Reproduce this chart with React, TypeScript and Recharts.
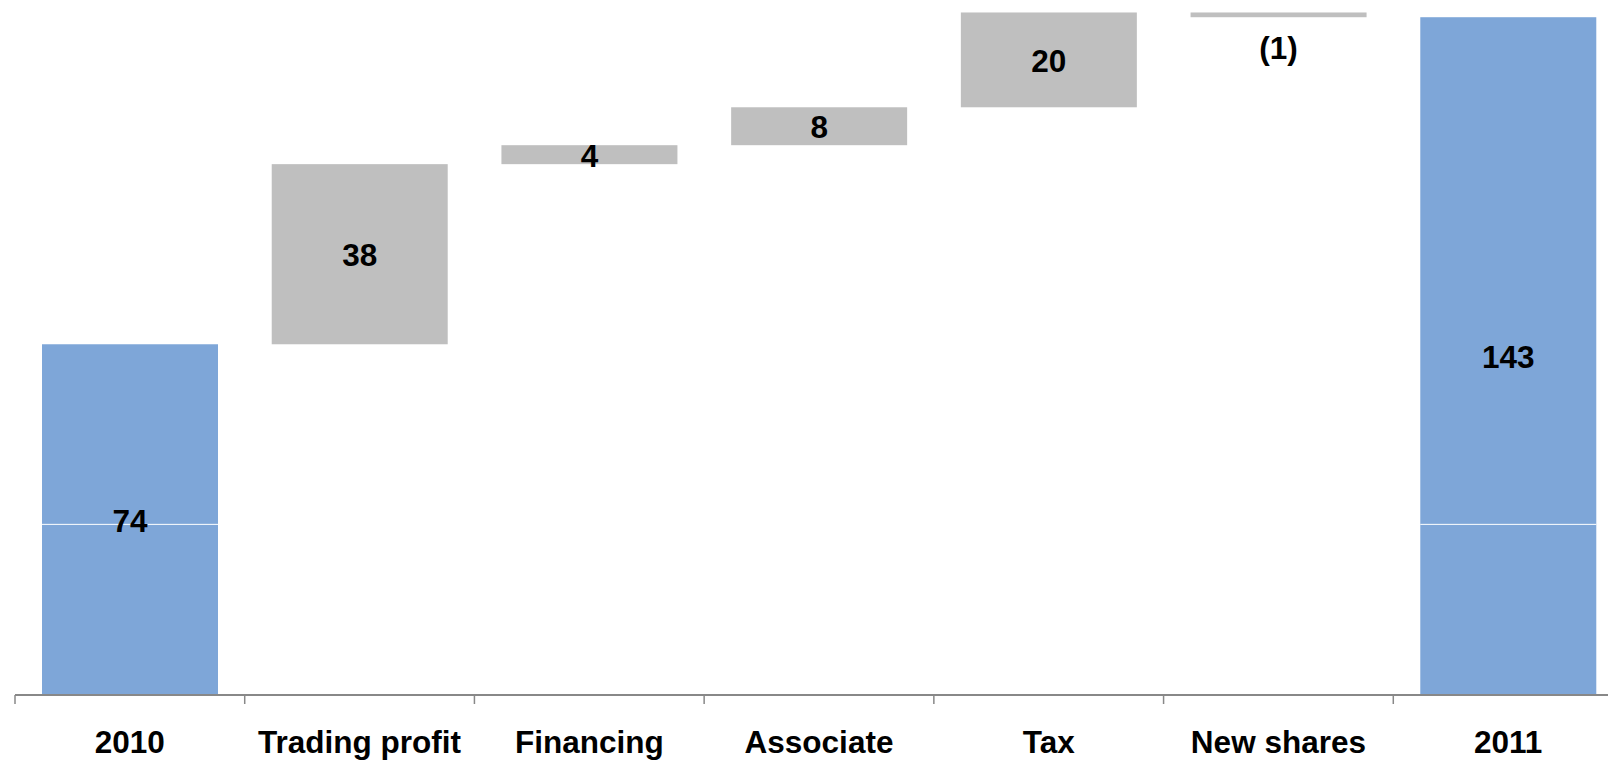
import { BarChart, Bar, XAxis, YAxis, LabelList } from 'recharts';

// waterfall: 2010 -> 2011
const categories = ['2010', 'Trading profit', 'Financing', 'Associate', 'Tax', 'New shares', '2011'];
const changes = [74, 38, 4, 8, 20, -1, 143];
const valueLabels = ['74', '38', '4', '8', '20', '(1)', '143'];
const isTotal = [true, false, false, false, false, false, true];
const splitValue = 36; // thin white seam inside the total bars

const BLUE = '#7EA6D8';
const GREY = '#BFBFBF';
const FONT = '"Liberation Sans", Arial, Helvetica, sans-serif';
const FONT_SIZE = 31.5;

const CHART_W = 1624;
const CHART_H = 760;
const MARGIN = { top: 3, right: 1, left: 15, bottom: 0 };
const X_AXIS_H = 65;
const AXIS_Y = CHART_H - MARGIN.bottom - X_AXIS_H;
const BAND = (CHART_W - MARGIN.left - MARGIN.right) / categories.length;

let running = 0;
const data = categories.map((name, i) => {
  let range: number[];
  if (isTotal[i]) {
    range = [0, changes[i]];
    running = changes[i];
  } else {
    const next = running + changes[i];
    range = [Math.min(running, next), Math.max(running, next)];
    running = next;
  }
  return { name, range, total: isTotal[i] };
});

const BarShape = (props: any) => {
  const { x, y, width, height, payload } = props;
  const top = Math.min(y, y + height);
  const h = Math.abs(height);
  const fill = payload.total ? BLUE : GREY;
  const seamY = payload.total ? top + h - (h * splitValue) / payload.range[1] : null;
  return (
    <g>
      <rect x={x} y={top} width={width} height={h} fill={fill} />
      {seamY !== null && (
        <line x1={x} x2={x + width} y1={seamY} y2={seamY} stroke="#fff" strokeWidth={1} />
      )}
    </g>
  );
};

const renderLabel = (props: any) => {
  const vb = props.viewBox || props;
  const { x, y, width, height } = vb;
  const index = props.index;
  const top = Math.min(y, y + height);
  const h = Math.abs(height);
  const cy = changes[index] < 0 ? top + h + 31 : top + h / 2 + 1;
  return (
    <text
      x={x + width / 2}
      y={cy}
      textAnchor="middle"
      dominantBaseline="central"
      fontFamily={FONT}
      fontSize={FONT_SIZE}
      fontWeight="bold"
      fill="#000"
    >
      {valueLabels[index]}
    </text>
  );
};

const AxisTick = (props: any) => {
  const { x, payload } = props;
  const left = x - BAND / 2;
  return (
    <g>
      <line x1={left} x2={left} y1={AXIS_Y} y2={AXIS_Y + 9} stroke="#888" strokeWidth={1.5} />
      <text
        x={x}
        y={AXIS_Y + 58}
        textAnchor="middle"
        fontFamily={FONT}
        fontSize={FONT_SIZE}
        fontWeight="bold"
        fill="#000"
      >
        {payload.value}
      </text>
    </g>
  );
};

export default function App() {
  return (
    <div style={{ position: 'absolute', left: 0, top: 0, width: 1608, height: 760, overflow: 'hidden', background: '#fff' }}>
      <BarChart width={CHART_W} height={CHART_H} data={data} margin={MARGIN} barSize={176}>
        <XAxis
          dataKey="name"
          height={X_AXIS_H}
          interval={0}
          tickLine={false}
          tickSize={0}
          tickMargin={0}
          axisLine={{ stroke: '#888', strokeWidth: 2 }}
          tick={<AxisTick />}
        />
        <YAxis hide domain={[0, 146]} />
        <Bar dataKey="range" shape={<BarShape />} isAnimationActive={false}>
          <LabelList dataKey="range" content={renderLabel} />
        </Bar>
      </BarChart>
    </div>
  );
}
